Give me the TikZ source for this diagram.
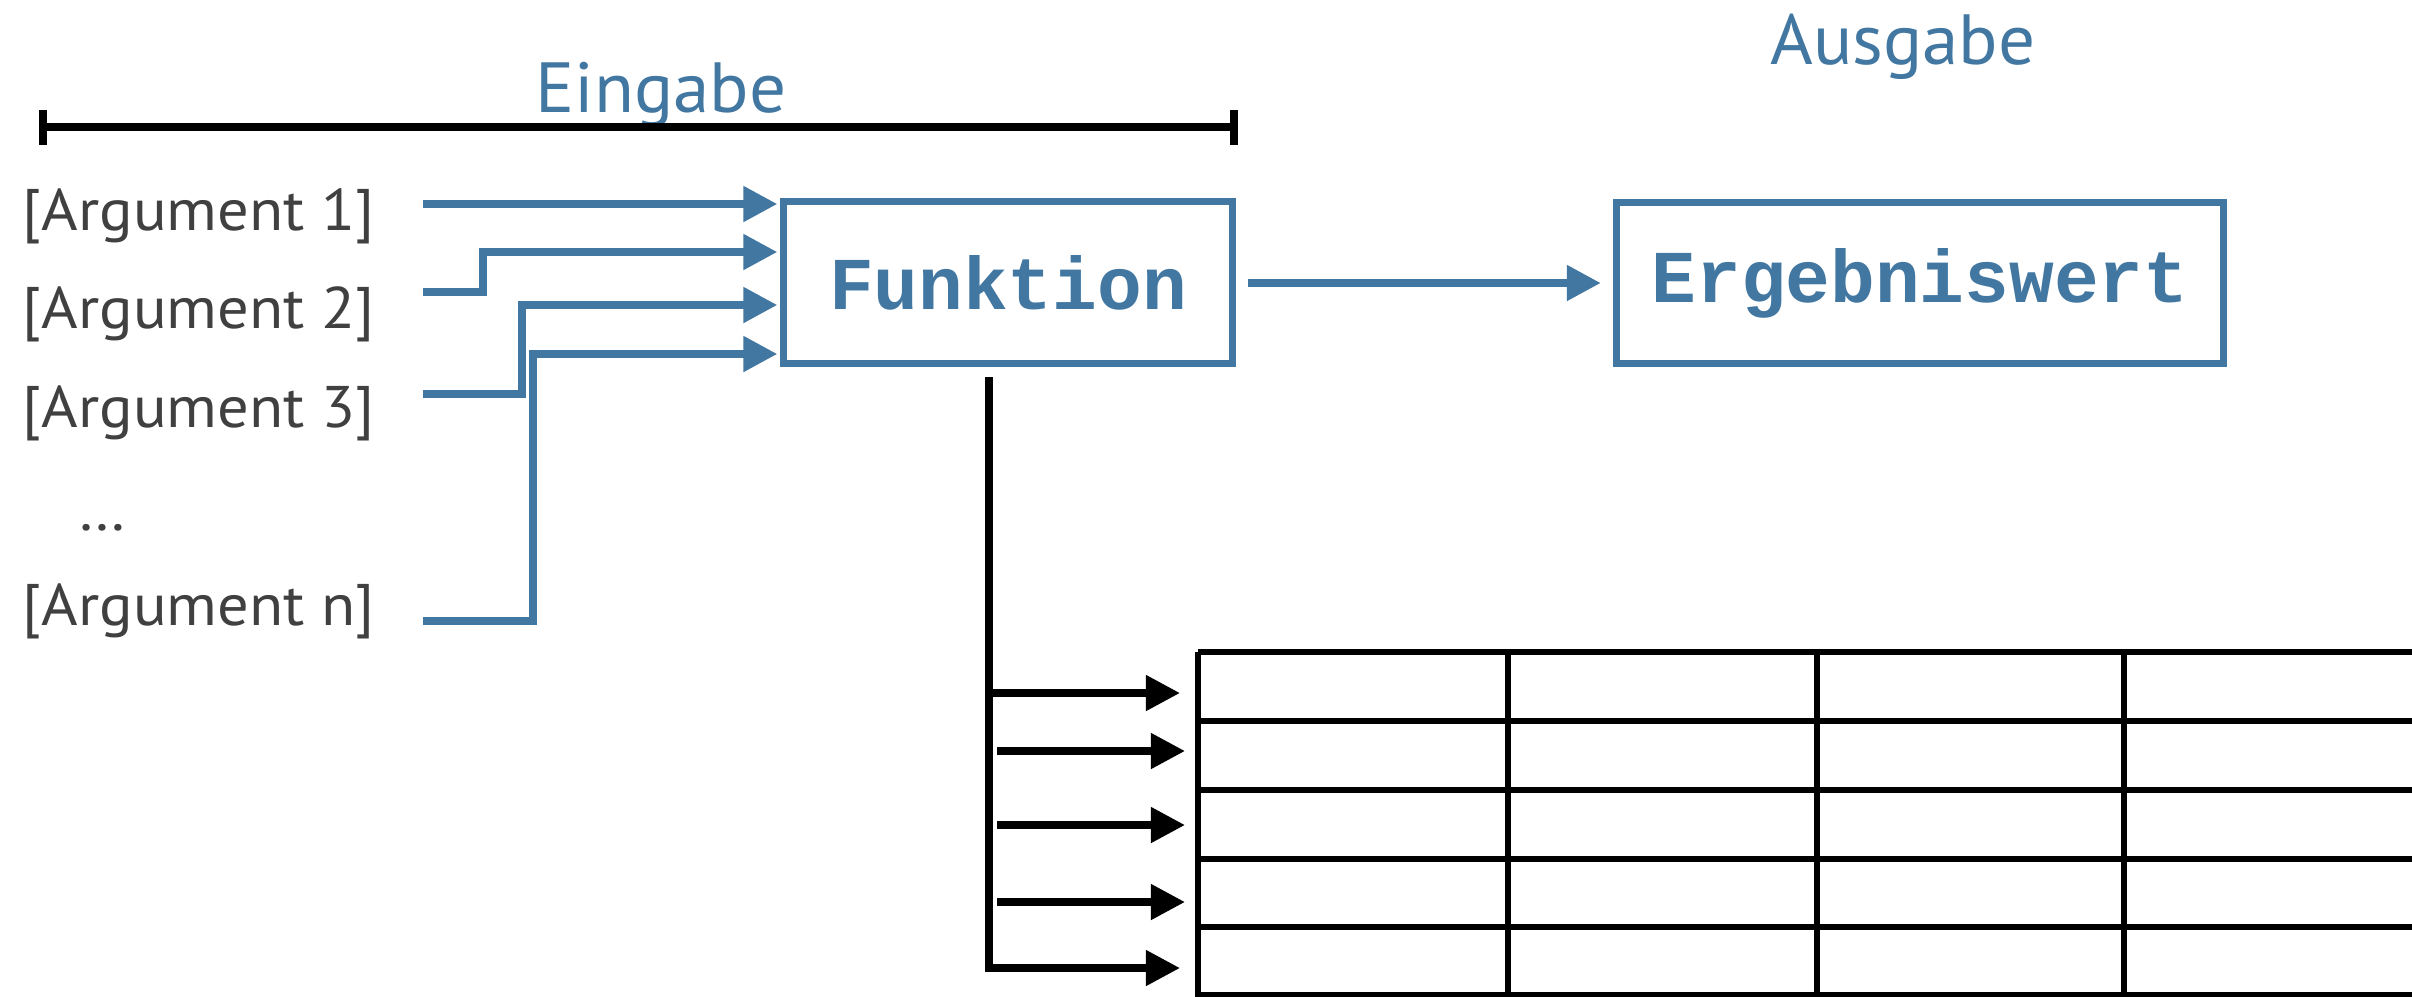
\documentclass[tikz,border=0pt]{standalone}
\usepackage{fontspec}
\setmainfont{PT Sans}
\setmonofont{Liberation Mono}
\newfontfamily\argfont[FakeStretch=1.065]{PT Sans}
\newfontfamily\headfont[FakeStretch=1.03]{PT Sans}
\usetikzlibrary{arrows.meta,calc}
\definecolor{bl}{RGB}{66,119,161}
\definecolor{txt}{RGB}{64,64,64}
\begin{document}
\begin{tikzpicture}[x=0.01cm,y=-0.01cm,
  box/.style={draw=bl, line width=0.07cm, inner sep=0, minimum height=1.61cm,
    text=bl, font=\fontsize{21.2}{24}\selectfont\ttfamily\bfseries},
  arglabel/.style={anchor=base west, text=txt, inner sep=0,
    font=\fontsize{16.7}{20}\selectfont\argfont},
  head/.style={text=bl, inner sep=0, anchor=base, font=\fontsize{20.2}{24}\selectfont\headfont},
  barr/.style={draw=bl, line width=0.08cm, -{Triangle[length=0.34cm,width=0.34cm]}},
  karr/.style={draw=black, line width=0.075cm, -{Triangle[length=0.34cm,width=0.34cm]}},
  tline/.style={draw=black, line width=0.058cm},
  brk/.style={draw=black, line width=0.08cm}]
\useasboundingbox (0,0) rectangle (2412,996);

% headings
\node[head] (eing) at (661,112) {Eingabe};
\node[head] (ausg) at (1903,64) {Ausgabe};

% bracket
\coordinate (bl) at (43,127);
\coordinate (br) at (1234,127);
\draw[brk] (bl) -- (br);
\draw[brk] ($(bl)+(0,-17)$) -- ($(bl)+(0,18)$);
\draw[brk] ($(br)+(0,-17)$) -- ($(br)+(0,18)$);

% argument labels
\node[arglabel] (arg1) at (22,230) {[Argument 1]};
\node[arglabel] (arg2) at (22,328) {[Argument 2]};
\node[arglabel] (arg3) at (22,427) {[Argument 3]};
\node[arglabel] (dots) at (78,530) {…};
\node[arglabel] (argn) at (22,625) {[Argument n]};

% boxes
\node[box, minimum width=4.48cm] (fk) at (1008,282.5) {Funktion};
\node[box, minimum width=6.06cm] (erg) at (1920,283) {Ergebniswert};

% input arrows
\coordinate (s1) at (423,204);
\coordinate (s2) at (423,292);
\coordinate (s3) at (423,394);
\coordinate (sn) at (423,621);
\draw[barr, shorten >=0.03cm] (s1) -- (fk.west |- s1);
\draw[barr, shorten >=0.03cm] (s2) -- (483,292) -- (483,252) -- (fk.west |- 0,252);
\draw[barr, shorten >=0.03cm] (s3) -- (522,394) -- (522,305) -- (fk.west |- 0,305);
\draw[barr, shorten >=0.03cm] (sn) -- (533,621) -- (533,354) -- (fk.west |- 0,354);

% output arrow
\draw[barr, shorten <=0.125cm, shorten >=0.125cm] (fk.east |- 0,283) -- (erg.west |- 0,283);

% table
\foreach \y in {652,721,790,859,927,995} {
  \draw[tline] (1198,\y) -- (2430,\y);
}
\foreach \x in {1198,1508,1817,2124} {
  \draw[tline] (\x,652) -- (\x,1000);
}
\coordinate (r1) at (1198,693);
\coordinate (r2) at (1198,751);
\coordinate (r3) at (1198,825);
\coordinate (r4) at (1198,902);
\coordinate (r5) at (1198,968);

% black branch
\coordinate (vt) at (989,377);
\draw[karr, shorten >=0.18cm] (vt) -- (989,968) -- (r5);
\draw[karr, shorten >=0.18cm] (989,693) -- (r1);
\draw[karr, shorten >=0.13cm] (997,751) -- (r2);
\draw[karr, shorten >=0.13cm] (997,825) -- (r3);
\draw[karr, shorten >=0.13cm] (997,902) -- (r4);
\end{tikzpicture}
\end{document}
